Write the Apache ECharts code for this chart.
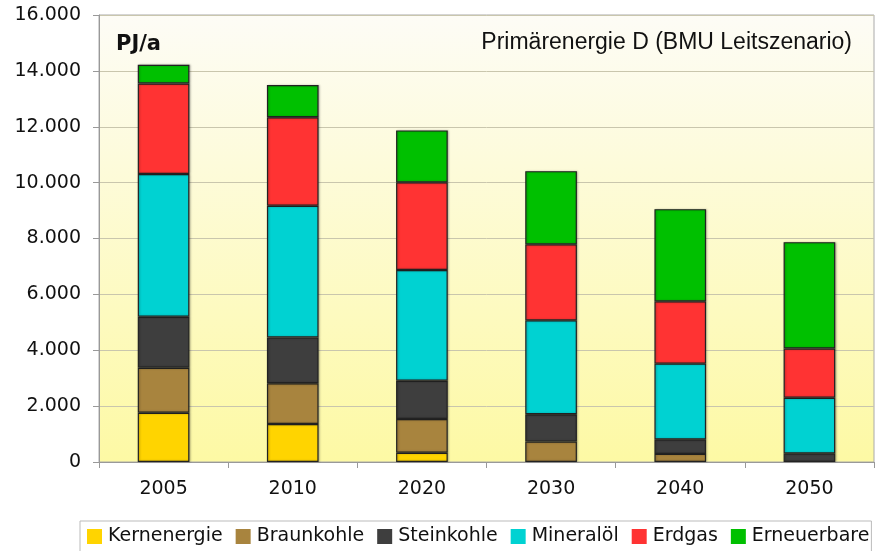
<!DOCTYPE html>
<html>
<head>
<meta charset="utf-8">
<script src="https://cdn.jsdelivr.net/npm/echarts@6/dist/echarts.min.js"></script>
<style>
  html, body { margin: 0; padding: 0; background: #fff; }
  #chart { width: 879px; height: 551px; }
</style>
</head>
<body>
<div id="chart"></div>
<script>
// Jahre (Kategorien)
const years = ['2005', '2010', '2020', '2030', '2040', '2050'];

// Werte in PJ/a
const kernenergie = [1765, 1360, 330, 0, 0, 0];
const braunkohle  = [1610, 1460, 1210, 730, 290, 0];
const steinkohle  = [1825, 1640, 1370, 980, 520, 310];
const mineraloel  = [5110, 4710, 3960, 3360, 2710, 1990];
const erdgas      = [3240, 3170, 3140, 2720, 2230, 1760];
const erneuerbare = [670, 1150, 1860, 2620, 3300, 3810];

const seriesNames = ['Kernenergie', 'Braunkohle', 'Steinkohle', 'Mineralöl', 'Erdgas', 'Erneuerbare'];
const seriesData = [kernenergie, braunkohle, steinkohle, mineraloel, erdgas, erneuerbare];
const colors = ['#ffd400', '#a8843e', '#3e3e3e', '#00d2d2', '#ff3333', '#00c000'];

const chart = echarts.init(document.getElementById('chart'), null, { renderer: 'canvas' });

const fmt = v => v === 0 ? '0' : String(v).replace(/\B(?=(\d{3})+(?!\d))/g, '.');

chart.setOption({
    animation: false,
    color: colors,
    textStyle: { fontFamily: 'DejaVu Sans' },
    title: [
        {
            text: 'Primärenergie D (BMU Leitszenario)',
            right: 22, top: 26,
            textStyle: { fontFamily: 'Liberation Sans', fontSize: 23, fontWeight: 'normal', color: '#111' }
        },
        {
            text: 'PJ/a',
            left: 111, top: 29,
            textStyle: { fontFamily: 'DejaVu Sans', fontSize: 21, fontWeight: 'bold', color: '#111' }
        }
    ],
    legend: {
        left: 80, top: 521,
        padding: [6, 2, 10, 7],
        itemWidth: 15, itemHeight: 15, itemGap: 13,
        backgroundColor: '#fff',
        borderColor: '#bbb', borderWidth: 1,
        icon: 'rect',
        textStyle: { fontFamily: 'DejaVu Sans', fontSize: 19, color: '#111', padding: [0, 0, 0, 1] },
        itemStyle: { borderWidth: 0 },
        data: seriesNames
    },
    grid: {
        left: 99, right: 5, top: 15, bottom: 89,
        show: true,
        borderColor: '#aaa', borderWidth: 1,
        backgroundColor: new echarts.graphic.LinearGradient(0, 0, 0, 1, [
            { offset: 0, color: '#fdfcf6' },
            { offset: 1, color: '#fdf9a4' }
        ])
    },
    xAxis: {
        type: 'category',
        data: years,
        axisLine: { lineStyle: { color: '#999' } },
        axisTick: { show: true, length: 6, lineStyle: { color: '#999' } },
        axisLabel: { fontSize: 19, color: '#111', margin: 18 }
    },
    yAxis: {
        type: 'value',
        min: 0, max: 16000, interval: 2000,
        axisLine: { show: true, lineStyle: { color: '#999' } },
        axisTick: { show: true, length: 6, lineStyle: { color: '#999' } },
        splitLine: { lineStyle: { color: '#c9c6ad', width: 1 } },
        axisLabel: { fontSize: 19, color: '#111', margin: 18, formatter: fmt }
    },
    series: seriesNames.map((name, i) => ({
        name: name,
        type: 'bar',
        stack: 'total',
        barWidth: '40%',
        // Nullwerte nicht als Strich zeichnen
        data: seriesData[i].map(v => v === 0 ? null : v),
        itemStyle: {
            borderColor: '#222',
            borderWidth: 1.2,
            shadowColor: 'rgba(0,0,0,0.25)',
            shadowBlur: 2,
            shadowOffsetX: 1,
            shadowOffsetY: 0
        }
    }))
});
</script>
</body>
</html>
